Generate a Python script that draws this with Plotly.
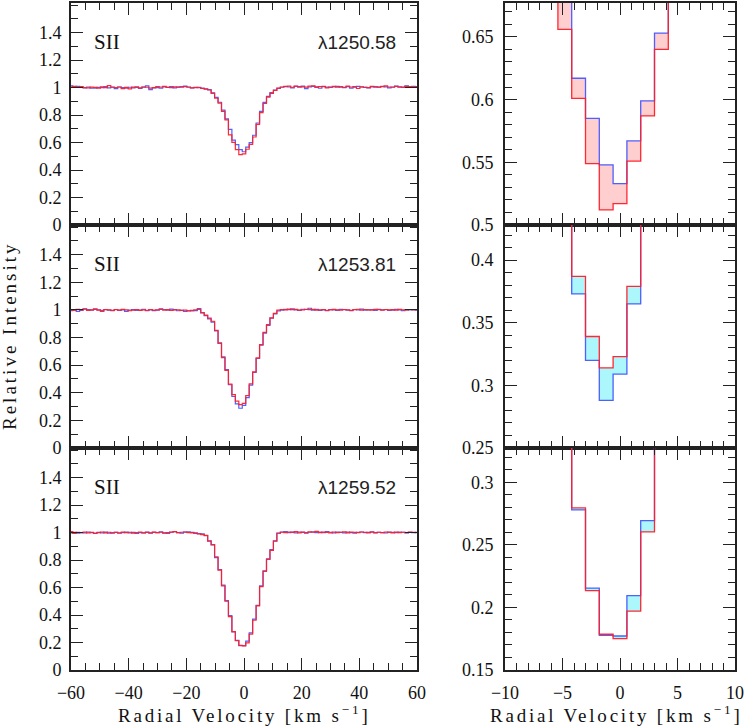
import numpy as np
import plotly.graph_objects as go
from plotly.subplots import make_subplots

# velocity bins: 1.2 km/s wide, centred on -60 ... 60
BIN_WIDTH = 1.2
velocity = np.round(np.arange(101) * BIN_WIDTH - 60, 2)

lines = ["\u03bb1250.58", "\u03bb1253.81", "\u03bb1259.52"]
ion = "SII"

# S II 1250.58
blue_1250 = [
    1.012, 1.005, 1.008, 1.003, 0.998, 1.004, 0.996, 0.995, 1.001, 0.999,
    1.006, 0.997, 1.003, 0.992, 1.004, 1.000, 0.995, 1.002, 0.998, 1.001,
    0.994, 1.003, 1.012, 0.985, 0.997, 1.000, 0.996, 1.004, 1.001, 1.006,
    0.998, 1.003, 1.007, 1.010, 1.002, 0.997, 0.999, 1.001, 0.996, 0.990,
    0.985, 0.962, 0.928, 0.893, 0.835, 0.772, 0.695, 0.617, 0.585, 0.548, 0.533,
    0.567, 0.599, 0.653, 0.742, 0.826, 0.892, 0.935, 0.963, 0.982, 0.994,
    1.002, 1.006, 1.004, 0.997, 1.008, 1.003, 1.010, 0.992, 1.004, 1.009,
    1.005, 0.995, 1.007, 1.003, 1.001, 1.004, 1.009, 1.002, 1.000, 1.006,
    0.996, 1.003, 1.008, 1.004, 1.001, 0.998, 1.005, 1.002, 1.003, 1.009,
    1.005, 0.997, 1.004, 1.010, 1.003, 1.001, 1.012, 1.004, 1.008, 1.006,
]
red_1250 = [
    1.004, 1.008, 1.002, 1.006, 1.000, 0.997, 1.003, 1.001, 0.996, 1.005,
    1.000, 1.014, 1.002, 0.999, 1.004, 0.992, 1.001, 0.990, 1.003, 1.005,
    0.998, 1.004, 1.002, 0.996, 1.000, 1.006, 1.004, 1.008, 1.001, 0.999,
    1.005, 1.003, 1.002, 1.006, 1.004, 0.998, 1.001, 1.000, 0.993, 0.988,
    0.982, 0.958, 0.922, 0.886, 0.826, 0.765, 0.656, 0.601, 0.549, 0.512, 0.517,
    0.551, 0.587, 0.640, 0.732, 0.818, 0.884, 0.930, 0.958, 0.980, 0.996,
    1.004, 1.008, 1.010, 1.002, 1.011, 1.007, 1.005, 1.003, 1.010, 1.012,
    1.001, 1.006, 1.009, 0.998, 1.004, 1.008, 1.003, 1.006, 1.002, 1.010,
    1.004, 1.007, 0.993, 1.005, 1.002, 1.000, 1.008, 1.006, 1.003, 1.007,
    1.012, 1.004, 1.002, 1.009, 1.005, 1.003, 1.008, 1.006, 1.004, 1.007,
]

# S II 1253.81
blue_1253 = [
    0.995, 1.002, 0.990, 0.997, 1.006, 1.003, 0.998, 1.004, 1.001, 0.996,
    1.002, 0.999, 0.994, 1.003, 0.997, 1.000, 0.989, 0.998, 1.002, 0.996,
    0.999, 1.005, 0.994, 1.001, 0.995, 0.999, 1.007, 1.003, 0.998, 1.006,
    1.002, 0.994, 0.997, 0.990, 0.994, 0.992, 0.995, 1.010,
    0.978, 0.958, 0.935, 0.912, 0.848, 0.762, 0.660, 0.568, 0.458, 0.373, 0.320, 0.288,
    0.309, 0.365, 0.455, 0.548, 0.648, 0.745, 0.832, 0.888, 0.940, 0.972, 0.992,
    0.998, 1.004, 1.002, 1.008, 1.000, 0.997, 1.005, 1.003, 1.012, 0.999,
    1.004, 0.996, 1.000, 0.994, 1.003, 1.001, 0.997, 1.004, 1.002, 0.999,
    0.995, 1.003, 1.000, 1.006, 0.998, 1.001, 1.003, 0.997, 1.004, 1.000,
    1.002, 0.996, 0.999, 1.004, 1.001, 0.995, 1.003, 1.000, 1.002, 0.998,
]
red_1253 = [
    1.002, 0.996, 1.004, 1.000, 1.007, 0.997, 1.001, 1.008, 0.999, 0.990,
    1.003, 1.000, 0.996, 1.002, 0.998, 1.004, 1.001, 0.994, 0.999, 1.003,
    0.997, 1.001, 0.996, 1.003, 0.998, 1.000, 1.004, 0.999, 1.002, 0.997,
    1.001, 1.000, 0.996, 0.998, 0.993, 0.997, 1.000, 1.004,
    0.980, 0.962, 0.940, 0.918, 0.852, 0.757, 0.655, 0.562, 0.462, 0.387, 0.339, 0.314,
    0.323, 0.379, 0.465, 0.552, 0.652, 0.748, 0.838, 0.893, 0.943, 0.975, 0.998,
    1.003, 1.001, 1.006, 1.002, 1.004, 0.999, 1.001, 1.005, 1.002, 1.004,
    0.998, 1.001, 1.003, 0.997, 1.001, 1.004, 1.000, 0.998, 1.003, 1.001,
    0.997, 1.002, 1.005, 0.999, 1.003, 1.001, 0.998, 1.004, 1.002, 0.999,
    1.003, 1.000, 1.002, 0.998, 1.004, 1.001, 0.999, 1.003, 1.000, 1.002,
]

# S II 1259.52
blue_1259 = [
    0.998, 1.002, 0.995, 1.000, 0.997, 1.004, 0.999, 0.993, 1.001, 0.998,
    1.003, 0.996, 1.000, 1.002, 0.995, 0.999, 1.004, 0.997, 1.001, 0.994,
    1.000, 0.998, 1.003, 0.996, 1.001, 0.999, 1.005, 0.997, 0.993, 1.002,
    1.007, 1.000, 0.996, 1.003, 1.005, 1.001, 0.997, 0.992, 0.990,
    0.978, 0.940, 0.910, 0.818, 0.730, 0.618, 0.505, 0.395, 0.278, 0.2155, 0.1777,
    0.1772, 0.2094, 0.2694, 0.370, 0.470, 0.612, 0.722, 0.808, 0.875, 0.940, 0.996, 1.004,
    1.006, 1.000, 1.003, 0.998, 1.004, 1.001, 0.996, 1.002, 1.005, 0.999,
    1.003, 1.000, 1.006, 1.002, 0.997, 1.004, 1.001, 0.998, 1.003, 1.000,
    0.996, 1.002, 1.004, 0.999, 1.001, 1.005, 0.998, 1.002, 1.000, 0.997,
    1.003, 1.001, 0.999, 1.004, 1.002, 0.998, 1.001, 0.999, 1.002,
]
red_1259 = [
    1.006, 0.994, 1.002, 0.999, 1.003, 0.997, 1.001, 0.996, 1.000, 1.004,
    0.998, 1.002, 0.995, 1.001, 0.997, 1.003, 0.999, 1.002, 0.996, 1.000,
    1.004, 0.998, 1.001, 0.997, 1.003, 0.999, 1.002, 0.996, 1.000, 1.003,
    1.006, 0.999, 1.002, 1.004, 1.000, 0.998, 0.994, 0.990, 0.985,
    0.980, 0.938, 0.912, 0.824, 0.726, 0.612, 0.500, 0.388, 0.2796, 0.2134, 0.1786,
    0.1751, 0.1971, 0.2604, 0.362, 0.466, 0.606, 0.718, 0.805, 0.870, 0.937, 0.995, 1.002,
    0.999, 1.004, 1.001, 1.006, 0.998, 1.003, 1.000, 1.005, 1.002, 1.008,
    0.999, 1.003, 1.001, 0.997, 1.004, 1.000, 1.002, 1.005, 0.998, 1.003,
    1.001, 0.999, 1.004, 1.002, 0.998, 1.003, 1.000, 1.002, 0.999, 1.004,
    1.001, 0.998, 1.003, 1.000, 1.002, 0.999, 1.003, 1.001, 1.000,
]

blues = [blue_1250, blue_1253, blue_1259]
reds = [red_1250, red_1253, red_1259]
for s in blues + reds:
    assert len(s) == len(velocity), len(s)

zoom_ranges = [[0.5, 0.677], [0.25, 0.428], [0.15, 0.3275]]
fill_colors = ["rgba(255,190,190,0.75)", "rgba(150,245,250,0.8)", "rgba(150,245,250,0.8)"]

BLUE = "rgba(60,80,255,0.9)"
RED = "rgba(255,30,40,0.95)"
AXCOL = "#222"
SERIF = '"Liberation Serif", "Times New Roman", "DejaVu Serif", serif'
TICKFONT = dict(family=SERIF, size=18, color="#111")

fig = make_subplots(rows=3, cols=2)

# pixel layout of the panels (figure 747 x 727)
W, H = 747, 727
left_dom = [71 / W, 417 / W]
right_dom = [505 / W, 735 / W]
row_px = [(3, 225), (225, 448), (448, 670)]

for i in range(3):
    r = i + 1
    # left: full profile
    fig.add_trace(go.Scatter(x=velocity, y=blues[i], mode="lines", line_shape="hvh",
                             line=dict(color=BLUE, width=1.2), showlegend=False),
                  row=r, col=1)
    fig.add_trace(go.Scatter(x=velocity, y=reds[i], mode="lines", line_shape="hvh",
                             line=dict(color=RED, width=1.2), showlegend=False),
                  row=r, col=1)
    # right: zoom on the core with shaded difference
    fig.add_trace(go.Scatter(x=velocity, y=blues[i], mode="lines", line_shape="hvh",
                             line=dict(color=BLUE, width=1.3), showlegend=False),
                  row=r, col=2)
    fig.add_trace(go.Scatter(x=velocity, y=reds[i], mode="lines", line_shape="hvh",
                             line=dict(color=RED, width=1.3), fill="tonexty",
                             fillcolor=fill_colors[i], showlegend=False),
                  row=r, col=2)

    top, bot = row_px[i]
    ydom = [1 - bot / H, 1 - top / H]
    common = dict(showgrid=False, zeroline=False, showline=True, linecolor=AXCOL,
                  linewidth=1.6, mirror="ticks", ticks="inside", tickcolor=AXCOL,
                  tickwidth=1.2, ticklen=12, tickfont=TICKFONT, automargin=False)
    last = (i == 2)

    fig.update_xaxes(domain=left_dom, range=[-60, 60], tickvals=[-60, -40, -20, 0, 20, 40, 60],
                     minor=dict(ticks="inside", dtick=5, tick0=0, ticklen=7,
                                tickcolor=AXCOL, tickwidth=1.2),
                     showticklabels=last, ticklabelstandoff=6, row=r, col=1, **common)
    fig.update_yaxes(domain=ydom, range=[0, 1.615],
                     tickvals=[0, 0.2, 0.4, 0.6, 0.8, 1, 1.2, 1.4],
                     minor=dict(ticks="inside", dtick=0.1, tick0=0, ticklen=7,
                                tickcolor=AXCOL, tickwidth=1.2),
                     ticklabelstandoff=4, row=r, col=1, **common)
    fig.update_xaxes(domain=right_dom, range=[-10, 10], tickvals=[-10, -5, 0, 5, 10],
                     minor=dict(ticks="inside", dtick=1, tick0=0, ticklen=7,
                                tickcolor=AXCOL, tickwidth=1.2),
                     showticklabels=last, ticklabelstandoff=6, row=r, col=2, **common)
    lo = zoom_ranges[i][0]
    fig.update_yaxes(domain=ydom, range=zoom_ranges[i],
                     tickvals=[round(lo + 0.05 * j, 2) for j in range(4)],
                     minor=dict(ticks="inside", dtick=0.01, tick0=0, ticklen=7,
                                tickcolor=AXCOL, tickwidth=1.2),
                     ticklabelstandoff=6, row=r, col=2, **common)

    # labels inside the left panels
    yref_name = "y" if r == 1 else "y%d" % (2 * r - 1)
    xref_name = "x" if r == 1 else "x%d" % (2 * r - 1)
    fig.add_annotation(text=ion, xref=xref_name + " domain", yref=yref_name + " domain",
                       x=0.062, y=0.824, xanchor="left", yanchor="middle", showarrow=False,
                       font=dict(family=SERIF, size=21, color="#111"))
    fig.add_annotation(text=lines[i], xref=xref_name + " domain", yref=yref_name + " domain",
                       x=0.945, y=0.824, xanchor="right", yanchor="middle", showarrow=False,
                       font=dict(family="Liberation Sans", size=19, color="#222"))

TITLE_FONT = dict(family=SERIF, size=19, color="#111")
xtitle = '<span style="letter-spacing:2.8px">Radial Velocity [km s<sup>\u22121</sup>]</span>'
fig.add_annotation(text=xtitle, xref="paper", yref="paper", x=244 / W, y=1 - 714 / H,
                   xanchor="center", yanchor="middle", showarrow=False, font=TITLE_FONT)
fig.add_annotation(text=xtitle, xref="paper", yref="paper", x=616 / W, y=1 - 714 / H,
                   xanchor="center", yanchor="middle", showarrow=False, font=TITLE_FONT)
fig.add_annotation(text='<span style="letter-spacing:3px">Relative Intensity</span>',
                   xref="paper", yref="paper", x=9 / W, y=1 - 336 / H, textangle=-90,
                   xanchor="center", yanchor="middle", showarrow=False, font=TITLE_FONT)

fig.update_layout(width=W, height=H,
                  margin=dict(l=0, r=0, t=0, b=0, pad=0, autoexpand=False),
                  plot_bgcolor="white", paper_bgcolor="white", showlegend=False)

# page body margin off so the figure fills the window exactly
fig.write_html("out.html", config={"displayModeBar": False},
               post_script="document.body.style.margin = '0';")
